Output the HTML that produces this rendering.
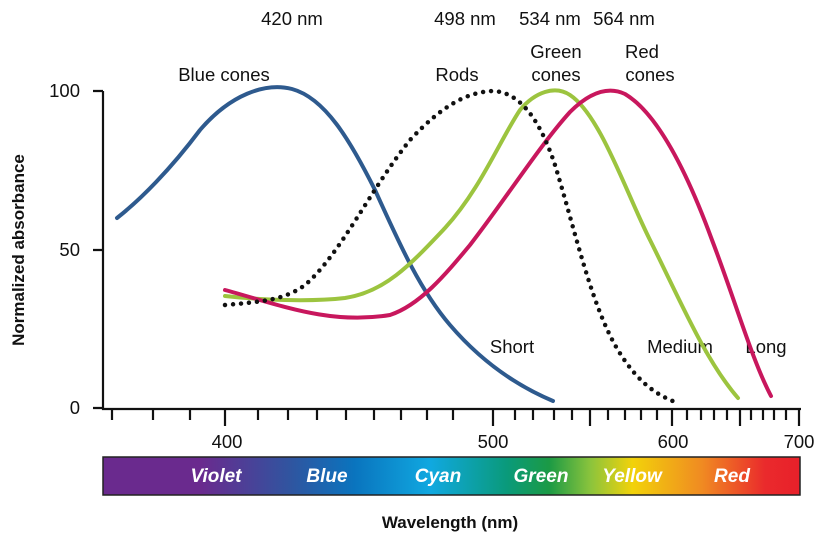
<!DOCTYPE html>
<html><head><style>
body{margin:0;background:#fff;}
svg{display:block;font-family:"Liberation Sans",Arial,sans-serif;}
</style></head><body>
<svg width="825" height="538" viewBox="0 0 825 538">
<defs>
<linearGradient id="sp" x1="0" x2="1" y1="0" y2="0">
<stop offset="0" stop-color="#6a2a8e"/>
<stop offset="0.14" stop-color="#6a2a8e"/>
<stop offset="0.27" stop-color="#2f55a0"/>
<stop offset="0.36" stop-color="#0a74be"/>
<stop offset="0.47" stop-color="#10a8e0"/>
<stop offset="0.58" stop-color="#0a9a7a"/>
<stop offset="0.64" stop-color="#1b9a45"/>
<stop offset="0.70" stop-color="#8cc43c"/>
<stop offset="0.76" stop-color="#f2d20a"/>
<stop offset="0.86" stop-color="#f08a22"/>
<stop offset="0.95" stop-color="#ea2a2c"/>
<stop offset="1" stop-color="#e8202a"/>
</linearGradient>
</defs>
<g font-size="18.5" fill="#111" text-anchor="middle">
<text x="292" y="25">420 nm</text>
<text x="465" y="25">498 nm</text>
<text x="550" y="25">534 nm</text>
<text x="624" y="25">564 nm</text>
<text x="224" y="81">Blue cones</text>
<text x="457" y="81">Rods</text>
<text x="556" y="58">Green</text>
<text x="556" y="81">cones</text>
<text x="642" y="58">Red</text>
<text x="650" y="81">cones</text>
<text x="512" y="353">Short</text>
<text x="680" y="353">Medium</text>
<text x="766" y="353">Long</text>
<text x="80" y="97" text-anchor="end">100</text>
<text x="80" y="256" text-anchor="end">50</text>
<text x="80" y="414" text-anchor="end">0</text>
<text x="227" y="448">400</text>
<text x="493" y="448">500</text>
<text x="673" y="448">600</text>
<text x="799" y="448">700</text>
</g>
<text transform="translate(24,250) rotate(-90)" font-size="17" font-weight="bold" text-anchor="middle" fill="#111">Normalized absorbance</text>
<text x="450" y="528" font-size="17" font-weight="bold" text-anchor="middle" fill="#111">Wavelength (nm)</text>
<g stroke="#111" stroke-width="2.2" fill="none">
<path d="M103 91 V409 H801"/>
<path d="M93 91 H103 M93 250 H103 M93 408 H103"/>
<path d="M112 408v12 M153 408v12 M190 408v12 M258 408v12 M288 408v12 M317 408v12 M346 408v12 M374 408v12 M401 408v12 M427 408v12 M453 408v12 M515 408v12 M533 408v12 M554 408v12 M572 408v12 M608 408v12 M625 408v12 M641 408v12 M657 408v12 M687 408v12 M701 408v12 M714 408v12 M727 408v12 M751 408v12 M763 408v12 M774 408v12 M786 408v12"/>
<path d="M225 408v18 M493 408v18 M590 408v18 M672 408v18 M740 408v18 M799 408v18"/>
</g>
<rect x="103" y="457" width="697" height="38" fill="url(#sp)" stroke="#222" stroke-width="1.5"/>
<g font-size="19" font-weight="bold" font-style="italic" fill="#fff" text-anchor="middle">
<text x="216" y="482">Violet</text>
<text x="327" y="482">Blue</text>
<text x="438" y="482">Cyan</text>
<text x="541" y="482">Green</text>
<text x="632" y="482">Yellow</text>
<text x="732" y="482">Red</text>
</g>
<g fill="none" stroke-width="4" stroke-linecap="round">
<path stroke="#2e5a8e" d="M117 218 C140 200 170 170 200 130 C230 95 265 82 292 89 C325 98 350 140 375 190 C400 245 420 290 450 325 C480 360 515 385 553 401"/>
<path stroke="#9cc43f" d="M225 296 C260 300 310 302 345 298 C385 292 410 265 445 228 C480 190 500 140 520 110 C535 92 555 85 570 95 C600 115 625 190 650 240 C680 300 705 360 738 398"/>
<path stroke="#c8175d" d="M225 290 C280 305 330 325 390 315 C420 305 445 275 470 245 C505 200 540 145 570 112 C590 92 608 86 625 94 C660 115 690 180 712 240 C735 300 752 360 771 396"/>
<path stroke="#111" stroke-dasharray="0 8" stroke-width="4.5" d="M225 305 C260 302 285 300 305 285 C340 255 370 190 410 140 C440 108 465 92 493 91 C520 92 540 120 555 165 C575 230 590 300 615 345 C635 380 655 395 678 403"/>
</g>
</svg>
</body></html>
